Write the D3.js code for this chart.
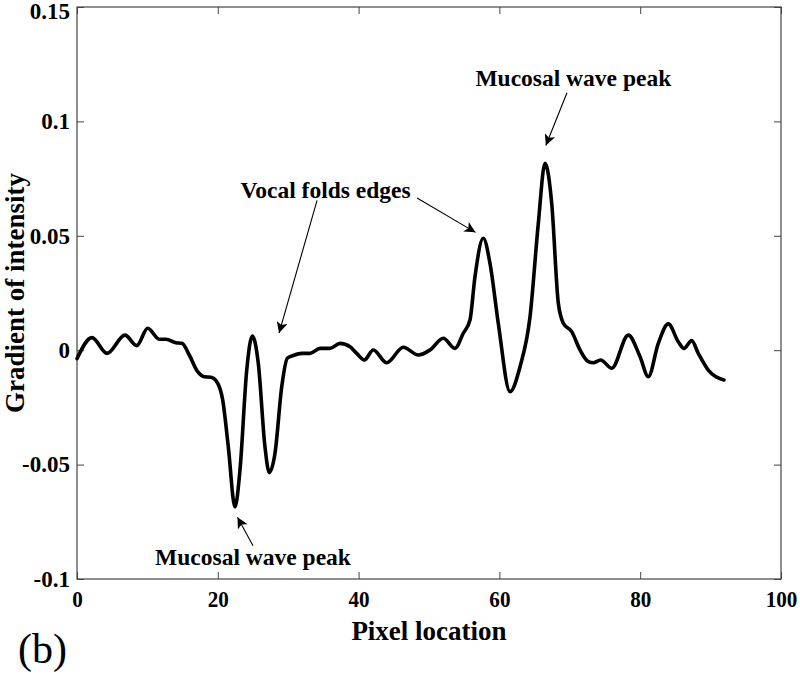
<!DOCTYPE html>
<html>
<head>
<meta charset="utf-8">
<script src="https://cdn.jsdelivr.net/npm/d3@7/dist/d3.min.js"></script>
<style>
  html, body { margin: 0; padding: 0; background: #fff; }
  svg { display: block; }
  text { font-family: "Liberation Serif", "Times New Roman", serif; }
</style>
</head>
<body>
<svg id="chart" width="800" height="674"></svg>
<script>
// ---- Data ----
const pixelX = [0, 2.13, 4.26, 6.82, 8.48, 10.04, 11.69, 12.64, 14.06, 14.91, 15.95, 17.14, 18.08, 19.03, 19.99, 20.70, 21.49, 22.44, 23.15, 24.11, 24.90, 25.75, 26.70, 27.31, 28.13, 29.08, 29.87, 30.72, 31.92, 33.10, 34.52, 35.94, 37.36, 38.78, 39.73, 40.81, 42.09, 43.99, 46.35, 48.48, 50.14, 52.03, 53.69, 54.87, 55.82, 56.53, 57.71, 58.66, 59.84, 61.51, 62.93, 64.35, 65.53, 66.48, 67.43, 68.37, 69.08, 70.27, 71.45, 72.63, 73.34, 74.39, 75.96, 78.31, 79.97, 81.15, 82.57, 83.99, 85.41, 86.22, 87.31, 88.25, 89.67, 91.90];
const gradient = [-0.0037, 0.0055, -0.0014, 0.0066, 0.0020, 0.0096, 0.0048, 0.0048, 0.0033, 0.0030, -0.0021, -0.0094, -0.0116, -0.0118, -0.0145, -0.0218, -0.0422, -0.0685, -0.0524, -0.0087, 0.0062, -0.0057, -0.0422, -0.0535, -0.0449, -0.0160, -0.0035, -0.0023, -0.0014, -0.0014, 0.0008, 0.0008, 0.0030, 0.0015, -0.0014, -0.0043, 0.0001, -0.0055, 0.0013, -0.0021, 0.0001, 0.0052, 0.0008, 0.0074, 0.0132, 0.0321, 0.0489, 0.0380, 0.0118, -0.0181, -0.0072, 0.0146, 0.0555, 0.0817, 0.0642, 0.0205, 0.0118, 0.0081, 0.0001, -0.0050, -0.0055, -0.0043, -0.0079, 0.0066, -0.0028, -0.0116, 0.0030, 0.0115, 0.0037, 0.0008, 0.0042, -0.0014, -0.0087, -0.0130];
const xTicks = [0, 20, 40, 60, 80, 100];
const yTicks = [-0.1, -0.05, 0, 0.05, 0.1, 0.15];
const yTickLabels = ["-0.1", "-0.05", "0", "0.05", "0.1", "0.15"];
const xLabel = "Pixel location";
const yLabel = "Gradient of intensity";
const panelLabel = "(b)";
// annotations: text + arrows given in data units (tail -> head)
const annotations = [
  { text: "Mucosal wave peak", x: 70.5, y: 0.1155, arrows: [[69.6, 0.1125, 66.6, 0.0895]] },
  { text: "Vocal folds edges", x: 35.3, y: 0.0665, arrows: [[34.1, 0.0655, 28.7, 0.0075], [48.3, 0.0665, 56.6, 0.0515]] },
  { text: "Mucosal wave peak", x: 25.0, y: -0.0940, arrows: [[25.0, -0.0855, 22.8, -0.0730]] }
];

// ---- Layout ----
const svg = d3.select("#chart");
const L = 77, R = 781, T = 7, B = 579;
const x = d3.scaleLinear().domain([0, 100]).range([L, R]);
const y = d3.scaleLinear().domain([-0.1, 0.15]).range([B, T]);

svg.append("defs").append("marker")
  .attr("id", "arrow").attr("viewBox", "0 0 10 10")
  .attr("refX", 10).attr("refY", 5)
  .attr("markerWidth", 13).attr("markerHeight", 11)
  .attr("markerUnits", "userSpaceOnUse")
  .attr("orient", "auto")
  .append("path").attr("d", "M0,0 L10,5 L0,10 L2.5,5 Z").attr("fill", "#000");

// frame
svg.append("rect").attr("x", L).attr("y", T).attr("width", R - L).attr("height", B - T)
  .attr("fill", "none").attr("stroke", "#444").attr("stroke-width", 1.2);

// axes with inward ticks
const tickFont = g => g.selectAll("text")
  .style("font-family", '"Liberation Serif", "Times New Roman", serif')
  .style("font-weight", "bold").style("font-size", "23px").attr("fill", "#000");

const xAxis = d3.axisBottom(x).tickValues(xTicks).tickSizeInner(-7).tickSizeOuter(0).tickPadding(12);
svg.append("g").attr("transform", `translate(0,${B})`).call(xAxis)
  .call(g => g.select(".domain").remove())
  .call(g => g.selectAll("line").attr("stroke", "#444"))
  .call(tickFont)
  .call(g => g.selectAll("text").attr("transform", "scale(0.92,1)"));

const yAxis = d3.axisLeft(y).tickValues(yTicks).tickFormat((d, i) => yTickLabels[i]).tickSizeInner(-7).tickSizeOuter(0).tickPadding(7);
svg.append("g").attr("transform", `translate(${L},0)`).call(yAxis)
  .call(g => g.select(".domain").remove())
  .call(g => g.selectAll("line").attr("stroke", "#444"))
  .call(tickFont)
  .call(g => g.selectAll("text").filter(d => d === 0.15).attr("y", 4));

// top & right ticks
svg.append("g").attr("transform", `translate(0,${T})`)
  .call(d3.axisTop(x).tickValues(xTicks).tickSizeInner(-7).tickSizeOuter(0).tickFormat(""))
  .call(g => g.select(".domain").remove()).call(g => g.selectAll("line").attr("stroke", "#444"));
svg.append("g").attr("transform", `translate(${R},0)`)
  .call(d3.axisRight(y).tickValues(yTicks).tickSizeInner(-7).tickSizeOuter(0).tickFormat(""))
  .call(g => g.select(".domain").remove()).call(g => g.selectAll("line").attr("stroke", "#444"));

// curve
const data = pixelX.map((v, i) => [v, gradient[i]]);
svg.append("path").datum(data)
  .attr("fill", "none").attr("stroke", "#000").attr("stroke-width", 3.6)
  .attr("stroke-linejoin", "round").attr("stroke-linecap", "round")
  .attr("d", d3.line().x(d => x(d[0])).y(d => y(d[1])).curve(d3.curveMonotoneX));

// annotations
annotations.forEach(a => {
  svg.append("text").attr("x", x(a.x)).attr("y", y(a.y))
    .attr("text-anchor", "middle").style("font-weight", "bold").style("font-size", "23.5px")
    .text(a.text);
  a.arrows.forEach(ar => {
    svg.append("line")
      .attr("x1", x(ar[0])).attr("y1", y(ar[1])).attr("x2", x(ar[2])).attr("y2", y(ar[3]))
      .attr("stroke", "#000").attr("stroke-width", 1.1).attr("marker-end", "url(#arrow)");
  });
});

// axis labels
svg.append("text").attr("x", (L + R) / 2).attr("y", 640)
  .attr("text-anchor", "middle").style("font-weight", "bold").style("font-size", "27px").text(xLabel);
svg.append("text").attr("transform", `translate(24,${(T + B) / 2}) rotate(-90)`)
  .attr("text-anchor", "middle").style("font-weight", "bold").style("font-size", "27px").text(yLabel);

// panel label
svg.append("text").attr("x", 18).attr("y", 663).style("font-size", "42px").text(panelLabel);
</script>
</body>
</html>
